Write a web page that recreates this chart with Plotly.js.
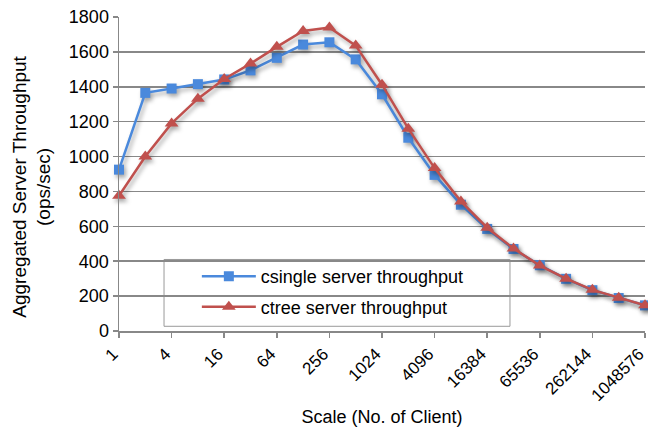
<!DOCTYPE html>
<html>
<head>
<meta charset="utf-8">
<script src="https://cdn.plot.ly/plotly-3.0.1.min.js"></script>
<style>
  html, body { margin: 0; padding: 0; background: #fff; }
  #chart { width: 648px; height: 427px; }
  /* soft drop shadow under the series lines and markers */
  .scatterlayer .trace { filter: drop-shadow(2px 3px 2px rgba(0,0,0,0.35)); }
</style>
</head>
<body>
<div id="chart"></div>
<script>
// Number of clients (powers of two, 1 .. 1048576)
const clients = ["1","2","4","8","16","32","64","128","256","512","1024","2048","4096",
                 "8192","16384","32768","65536","131072","262144","524288","1048576"];

// Aggregated server throughput (ops/sec)
const csingle = [925, 1365, 1390, 1415, 1442, 1494, 1566, 1642, 1655, 1557, 1357, 1108,
                 895, 724, 585, 470, 377, 299, 234, 189, 147];
const ctree   = [775, 1000, 1190, 1332, 1445, 1533, 1629, 1720, 1740, 1636, 1412, 1160,
                 934, 743, 592, 473, 375, 300, 236, 191, 147];

// Every other client count gets a tick label
const tickLabels = clients.filter((c, i) => i % 2 === 0);

const FONT = "Liberation Sans, Arial, sans-serif";
const GRID = "#888888";

const traces = [
  {
    x: clients, y: csingle, type: "scatter", mode: "lines+markers",
    name: "csingle server throughput", legendgroup: "a", cliponaxis: false,
    line: { color: "#4a89dc", width: 2.5 },
    marker: { symbol: "square", size: 10, color: "#4a89dc" }
  },
  {
    x: clients, y: ctree, type: "scatter", mode: "lines+markers",
    name: "ctree server throughput", legendgroup: "b", cliponaxis: false,
    line: { color: "#c0504d", width: 2.5 },
    marker: { symbol: "triangle-up", size: 12, color: "#c0504d" }
  }
];

const layout = {
  width: 648, height: 427,
  margin: { l: 119, r: 3, t: 17, b: 96 },
  paper_bgcolor: "#fff", plot_bgcolor: "#fff",
  font: { family: FONT, color: "#000", size: 18 },
  showlegend: true,
  legend: {
    x: 0.148, y: 0.232, xanchor: "left", yanchor: "top",
    bgcolor: "rgba(0,0,0,0)", borderwidth: 0,
    font: { family: FONT, size: 18, color: "#000" },
    traceorder: "grouped", tracegroupgap: 4,
    itemwidth: 54
  },
  // legend frame
  shapes: [{
    type: "rect", xref: "paper", yref: "paper", layer: "between",
    x0: 0.0856, x1: 0.7433, y0: 0.015, y1: 0.2278,
    fillcolor: "#fff", line: { color: "#999", width: 1 }
  }],
  // y-axis title, set a little below the plot's vertical centre
  annotations: [{
    text: "Aggregated Server Throughput<br>(ops/sec)",
    xref: "paper", yref: "paper", x: -0.167, y: 0.46,
    xanchor: "center", yanchor: "middle", textangle: -90, showarrow: false,
    font: { family: FONT, size: 19, color: "#000" }
  }],
  xaxis: {
    type: "category", range: [0, 20],
    tickmode: "array", tickvals: tickLabels, ticktext: tickLabels,
    tickangle: -45, tickfont: { family: FONT, size: 17 }, ticklabelshift: -6,
    ticks: "outside", ticklen: 5, tickcolor: GRID, tickwidth: 1.5,
    showline: true, linecolor: GRID, linewidth: 1.5,
    showgrid: false, zeroline: false,
    title: { text: "Scale (No. of Client)", font: { family: FONT, size: 18 }, standoff: 8 }
  },
  yaxis: {
    range: [0, 1800], dtick: 200, tick0: 0,
    tickfont: { family: FONT, size: 18 },
    ticks: "outside", ticklen: 5, tickcolor: GRID, tickwidth: 1.5,
    showline: true, linecolor: GRID, linewidth: 1.5,
    showgrid: true, gridcolor: GRID, gridwidth: 1.5, zeroline: false
  }
};

Plotly.newPlot("chart", traces, layout, { displayModeBar: false, staticPlot: true });
</script>
</body>
</html>
